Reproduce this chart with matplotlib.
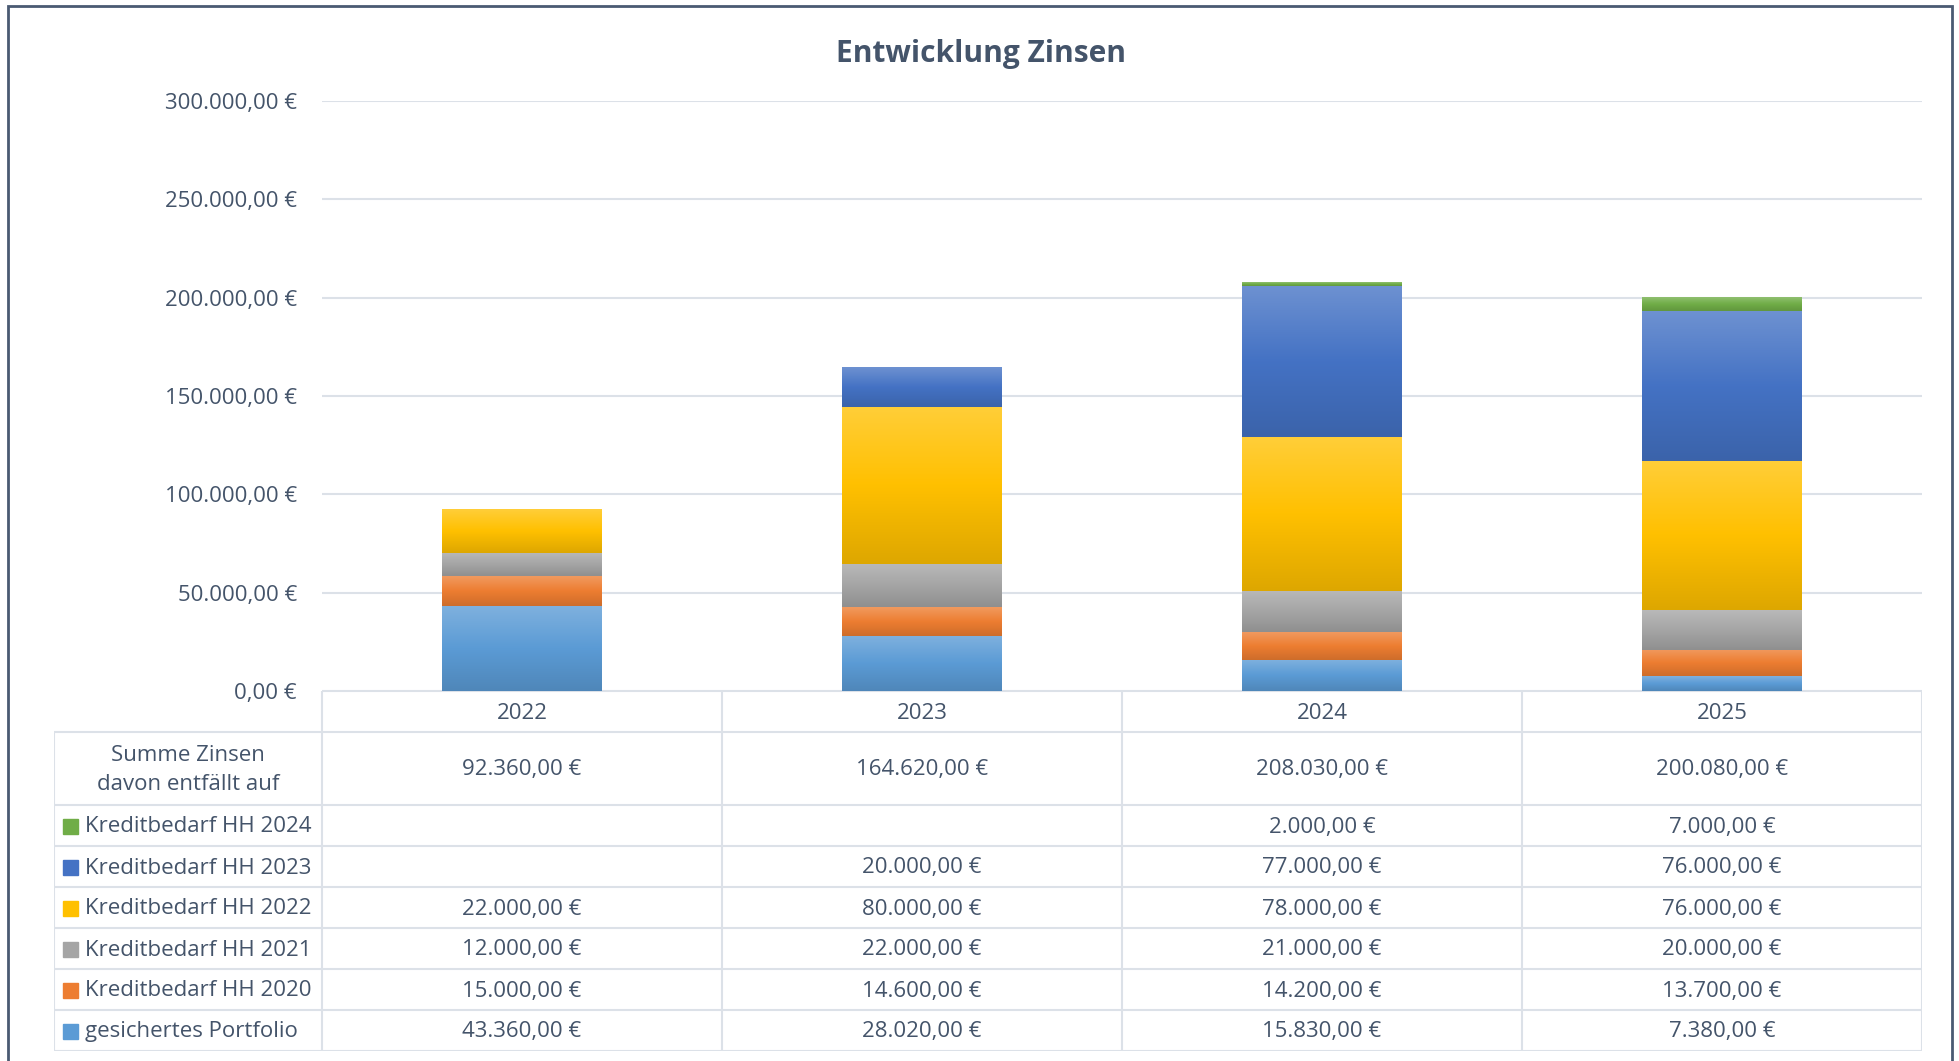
import numpy as np
import matplotlib
matplotlib.use("Agg")
import matplotlib.pyplot as plt
from matplotlib.colors import to_rgb
from matplotlib.patches import Rectangle

plt.rcParams['font.family'] = ['Open Sans', 'DejaVu Sans']

# daten
jahre = ['2022', '2023', '2024', '2025']
serien = ['gesichertes Portfolio', 'Kreditbedarf HH 2020', 'Kreditbedarf HH 2021',
          'Kreditbedarf HH 2022', 'Kreditbedarf HH 2023', 'Kreditbedarf HH 2024']
portfolio = [43360, 28020, 15830, 7380]
hh2020 = [15000, 14600, 14200, 13700]
hh2021 = [12000, 22000, 21000, 20000]
hh2022 = [22000, 80000, 78000, 76000]
hh2023 = [0, 20000, 77000, 76000]
hh2024 = [0, 0, 2000, 7000]
farben = ['#5B9BD5', '#ED7D31', '#A5A5A5', '#FFC000', '#4472C4', '#70AD47']

werte = [portfolio, hh2020, hh2021, hh2022, hh2023, hh2024]
summe = np.sum(werte, axis=0)

TXT = '#44546A'
LINIE = '#DCE1E8'
W, H = 1959, 1061


def euro(v):
    s = f"{v:,.2f}"
    s = s.replace(',', 'X').replace('.', ',').replace('X', '.')
    return s + ' €'


def fx(px):
    return px / W


def fy(px):
    return 1 - px / H


def verlauf(ax, x0, x1, y0, y1, farbe):
    c = np.array(to_rgb(farbe))
    oben = c + (1 - c) * 0.22
    unten = c * 0.87
    t = np.linspace(0, 1, 60)[:, None]
    arr = np.where(t < 0.5, oben + (c - oben) * (t / 0.5), c + (unten - c) * ((t - 0.5) / 0.5))
    ax.imshow(arr[:, None, :], extent=[x0, x1, y0, y1], aspect='auto',
              interpolation='bilinear', origin='upper', zorder=3)


fig = plt.figure(figsize=(W / 100, H / 100), dpi=100)

# diagramm
ax = fig.add_axes([fx(322), fy(691), fx(1922) - fx(322), fy(101) - fy(691)])
x = np.arange(len(jahre))
unten = np.zeros(len(jahre))
for name, vals, f in zip(serien, werte, farben):
    bars = ax.bar(x, vals, 0.4, bottom=unten, color=f, zorder=2)
    for r in bars:
        if r.get_height() > 0:
            verlauf(ax, r.get_x(), r.get_x() + r.get_width(), r.get_y(), r.get_y() + r.get_height(), f)
    unten += np.array(vals)

ax.set_xlim(-0.5, 3.5)
ax.set_ylim(0, 300000)
ax.set_yticks(np.arange(0, 300001, 50000))
ax.set_yticklabels([euro(v) for v in np.arange(0, 300001, 50000)], color=TXT, fontsize=16)
ax.tick_params(axis='y', length=0, pad=18)
ax.set_xticks([])
ax.grid(axis='y', color=LINIE, lw=1.5, zorder=0)
for s in ax.spines.values():
    s.set_visible(False)

fig.text(fx(981), fy(54), 'Entwicklung Zinsen', ha='center', va='center',
         fontsize=21.5, fontweight='bold', color=TXT)

# datentabelle
links = -0.5 - (322 - 54) / 400
tab = fig.add_axes([fx(54), fy(1051), fx(1922) - fx(54), fy(691) - fy(1051)])
tab.set_xlim(links, 3.5)
tab.set_ylim(1051, 691)
tab.axis('off')

zeilen = [691, 732, 805, 846, 887, 928, 969, 1010, 1051]
tab.hlines(691, -0.5, 3.5, color=LINIE, lw=1.5)
tab.hlines(zeilen[1:], links, 3.5, color=LINIE, lw=1.5)
tab.vlines(np.arange(-0.5, 3.6, 1), 691, 1051, color=LINIE, lw=1.5)
tab.vlines(links, 732, 1051, color=LINIE, lw=1.5)

for i, j in enumerate(jahre):
    tab.text(i, 714, j, ha='center', va='center', fontsize=16, color=TXT)
    tab.text(i, 770, euro(summe[i]), ha='center', va='center', fontsize=16, color=TXT)

tab.text((links - 0.5) / 2, 770, 'Summe Zinsen\ndavon entfällt auf', ha='center', va='center',
         fontsize=16, color=TXT, linespacing=1.45)

# zeilen von oben: HH 2024 ... Portfolio
for k, idx in enumerate(range(len(serien) - 1, -1, -1)):
    ym = (zeilen[k + 2] + zeilen[k + 3]) / 2 + 1.5
    tab.add_patch(Rectangle((links + 9 / 400, ym - 8), 15 / 400, 15, color=farben[idx]))
    tab.text(links + 31 / 400, ym, serien[idx], ha='left', va='center', fontsize=16, color=TXT)
    for i in range(len(jahre)):
        v = werte[idx][i]
        if v > 0:
            tab.text(i, ym, euro(v), ha='center', va='center', fontsize=16, color=TXT)

# rahmen
fig.patches.append(Rectangle((fx(8), fy(1070)), fx(1952) - fx(8), fy(6) - fy(1070),
                             transform=fig.transFigure, fill=False, ec='#4A5A72', lw=2))

fig.savefig('out.png', dpi=100)
